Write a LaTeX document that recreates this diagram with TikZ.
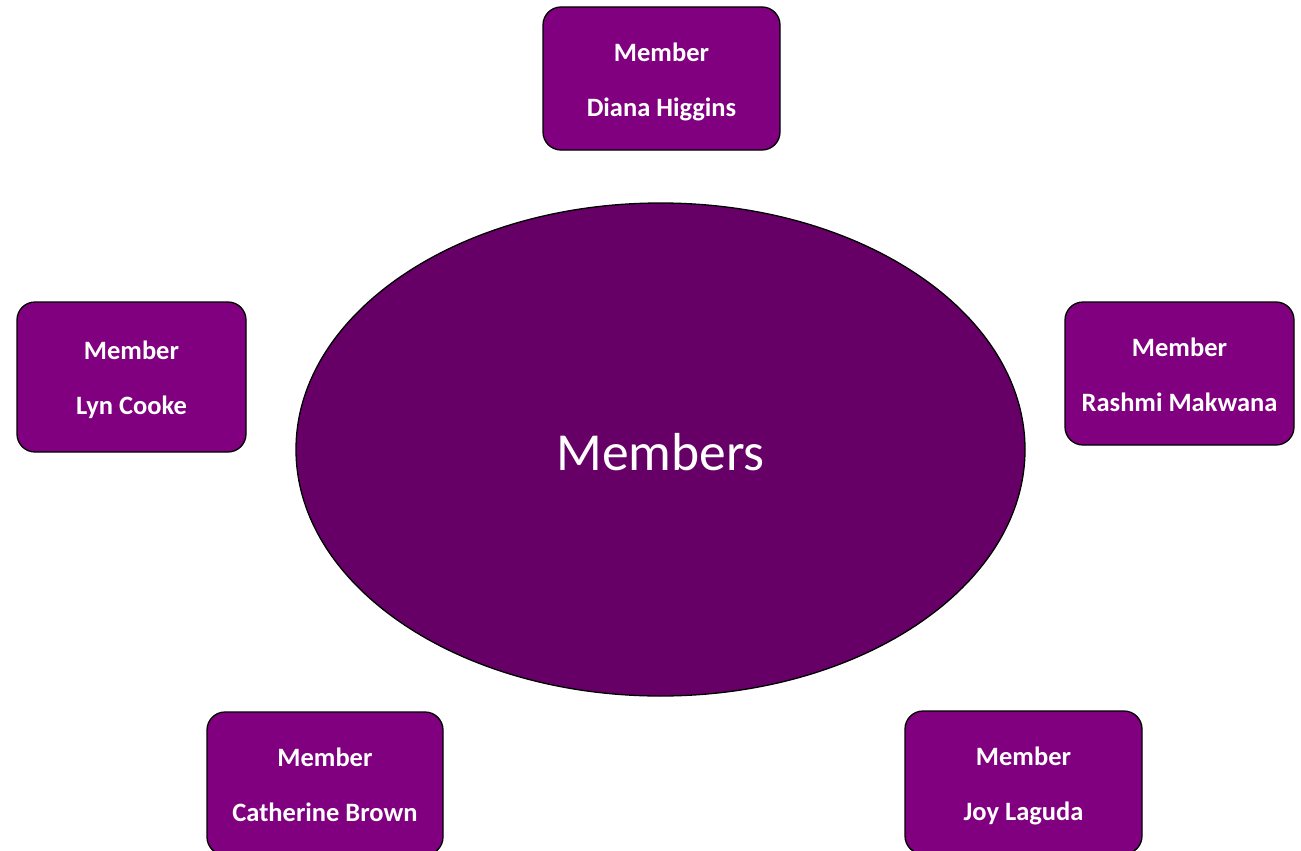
\documentclass[tikz,border=0pt]{standalone}
\usepackage{fontspec}
\setmainfont{Carlito}
\usetikzlibrary{shapes.geometric}
\definecolor{boxpurple}{HTML}{800080}
\definecolor{ellpurple}{HTML}{660066}
\newcommand{\mtext}[1]{\raisebox{-3pt}[\height][\depth]{\begin{tabular}{@{}c@{}}Member\\[20pt]#1\end{tabular}}}
\tikzset{
  memberbox/.style={draw=black, line width=1.3pt, fill=boxpurple, rounded corners=18pt,
    minimum width=237pt, minimum height=143pt, inner sep=0pt, text=white,
    font=\fontsize{26.5}{35}\selectfont\bfseries},
  hub/.style={ellipse, draw=black, line width=1.3pt, fill=ellpurple, minimum width=729pt,
    minimum height=493pt, inner sep=0pt, text=white, font=\fontsize{53.5}{64}\selectfont}
}
\begin{document}
\begin{tikzpicture}[x=1pt,y=-1pt]
\useasboundingbox (0,0) rectangle (1301,851);
\node[hub] (members) at (660.5,449.5) {\raisebox{-3pt}[\height][\depth]{Members}};
\node[memberbox] (diana) at (661.5,78.5) {\mtext{Diana Higgins}};
\node[memberbox, minimum width=229pt, minimum height=150pt] (lyn) at (131.5,377) {\mtext{Lyn Cooke}};
\node[memberbox, minimum width=229pt] (rashmi) at (1179.5,373.5) {\mtext{Rashmi Makwana}};
\node[memberbox, minimum width=236pt] (catherine) at (325,783.5) {\mtext{Catherine Brown}};
\node[memberbox] (joy) at (1023.5,782.5) {\mtext{Joy Laguda}};
\end{tikzpicture}
\end{document}
